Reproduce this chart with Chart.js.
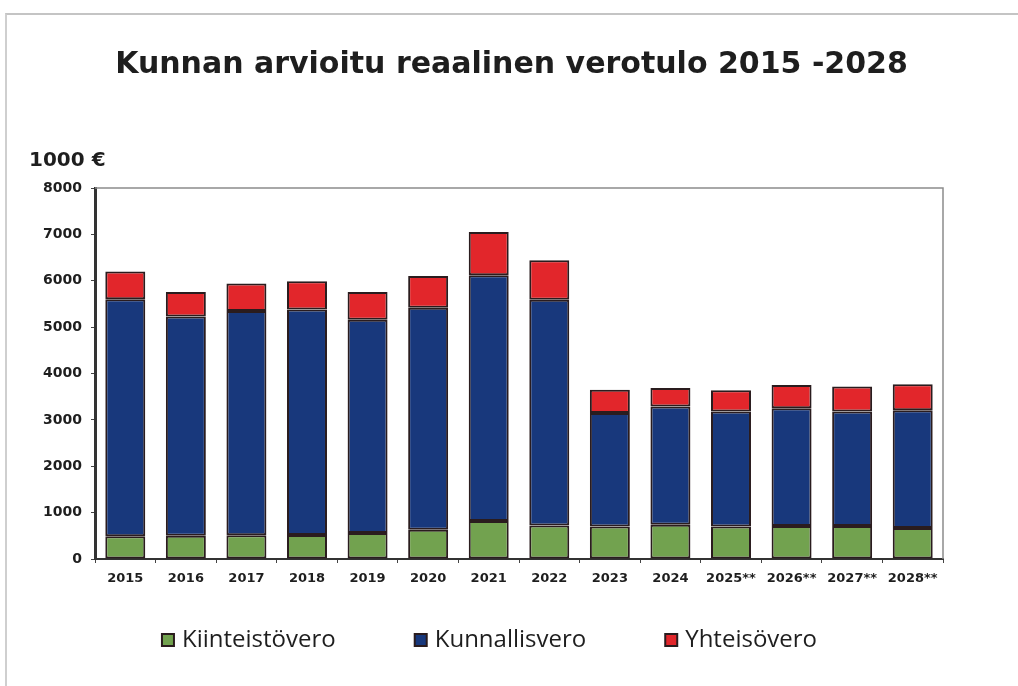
<!DOCTYPE html>
<html>
<head>
<meta charset="utf-8">
<script src="https://cdn.jsdelivr.net/npm/chart.js@4"></script>
<style>
  html, body { margin: 0; padding: 0; background: #fff; }
  #wrap { position: relative; width: 1018px; height: 686px; overflow: hidden; }
  #frame { position: absolute; left: 5px; top: 13px; right: -4px; bottom: -4px;
           border-top: 2px solid #c4c4c4; border-left: 2px solid #cfcfcf; }
  #verotulo { position: absolute; left: 0; top: 0; }
</style>
</head>
<body>
<div id="wrap">
  <div id="frame"></div>
  <canvas id="verotulo" width="1018" height="686"></canvas>
</div>
<script>
// vuodet (** = arvio)
const years = ['2015', '2016', '2017', '2018', '2019', '2020', '2021', '2022',
               '2023', '2024', '2025**', '2026**', '2027**', '2028**']

// 1000 €
const kiinteistovero = [490, 500, 510, 515, 560, 630, 820, 720, 700, 740, 700, 710, 710, 670]
const kunnallisvero  = [5110, 4730, 4840, 4865, 4600, 4790, 5300, 4870, 2450, 2550, 2480, 2540, 2470, 2540]
const yhteisovero    = [600, 530, 590, 610, 600, 680, 930, 850, 500, 400, 460, 500, 540, 560]

const yTicks = [0, 1000, 2000, 3000, 4000, 5000, 6000, 7000, 8000]

const dark = '#2a1c1e'
const legendPad = 83
const legendFont = 24

const extras = {
    id: 'extras',
    afterLayout(chart) {
        // iso padding antaa vaakavälin, siirretään rivi oikealle kohdalle
        const lg = chart.legend
        const dy = 640 - (lg.top + legendPad + legendFont / 2)
        const dx = 20
        lg.top += dy
        lg.bottom = chart.height
        lg.left += dx; lg.right += dx
        // otsikko koko leveyden keskelle
        const tb = chart.titleBlock
        tb.left += 40; tb.right += 40
    },
    beforeDatasetsDraw(chart) {
        // harmaa kehys ylä- ja oikeaan reunaan
        const { ctx, chartArea: a } = chart
        ctx.save()
        ctx.strokeStyle = '#8c8c8c'
        ctx.lineWidth = 1.5
        ctx.beginPath()
        ctx.moveTo(a.left, a.top)
        ctx.lineTo(a.right, a.top)
        ctx.lineTo(a.right, a.bottom)
        ctx.stroke()
        ctx.restore()
    },
    afterDraw(chart) {
        const ctx = chart.ctx
        ctx.save()
        ctx.font = 'bold 20px "DejaVu Sans", sans-serif'
        ctx.fillStyle = '#1e1e1e'
        ctx.textBaseline = 'middle'
        ctx.fillText('1000 €', 29, 161)
        ctx.restore()
    }
}

const ctx = document.getElementById('verotulo').getContext('2d')

new Chart(ctx, {
    type: 'bar',
    data: {
        labels: years,
        datasets: [
            { label: 'Kiinteistövero', data: kiinteistovero, backgroundColor: '#72a24f' },
            { label: 'Kunnallisvero', data: kunnallisvero, backgroundColor: '#18387c' },
            { label: 'Yhteisövero', data: yhteisovero, backgroundColor: '#e2262b' }
        ].map(d => Object.assign(d, {
            borderColor: dark,
            borderWidth: 2,
            borderSkipped: false,
            pointStyle: 'rect',
            categoryPercentage: 1,
            barPercentage: 0.66
        }))
    },
    options: {
        responsive: false,
        animation: false,
        layout: { padding: { left: 0, right: 75, top: 0, bottom: 0 } },
        scales: {
            x: {
                stacked: true,
                grid: { drawOnChartArea: false, drawTicks: true, tickLength: 4, color: '#444' },
                border: { color: '#333', width: 2 },
                ticks: {
                    color: '#1e1e1e',
                    padding: 8,
                    maxRotation: 0,
                    autoSkip: false,
                    font: { family: '"DejaVu Sans", sans-serif', weight: 'bold', size: 13 }
                },
                afterFit: s => { s.height = 35 }
            },
            y: {
                stacked: true,
                min: 0,
                max: 8000,
                afterBuildTicks: s => { s.ticks = yTicks.map(v => ({ value: v })) },
                grid: { drawOnChartArea: false, drawTicks: true, tickLength: 4, color: '#444' },
                border: { color: '#333', width: 3 },
                ticks: {
                    color: '#1e1e1e',
                    padding: 9,
                    callback: v => String(v),
                    font: { family: '"DejaVu Sans", sans-serif', weight: 'bold', size: 14 }
                },
                afterFit: s => { s.width = 95 }
            }
        },
        plugins: {
            title: {
                display: true,
                text: 'Kunnan arvioitu reaalinen verotulo 2015 -2028',
                color: '#1e1e1e',
                font: { family: '"DejaVu Sans", sans-serif', weight: 'bold', size: 30, lineHeight: 1.2 },
                padding: { top: 47, bottom: 105 }
            },
            legend: {
                position: 'bottom',
                maxHeight: 92,
                labels: {
                    color: '#1e1e1e',
                    usePointStyle: true,
                    boxWidth: 4,
                    boxHeight: 12,
                    padding: legendPad,
                    font: { family: '"Open Sans", Roboto, sans-serif', size: legendFont }
                }
            },
            tooltip: { enabled: false }
        }
    },
    plugins: [extras]
})
</script>
</body>
</html>
